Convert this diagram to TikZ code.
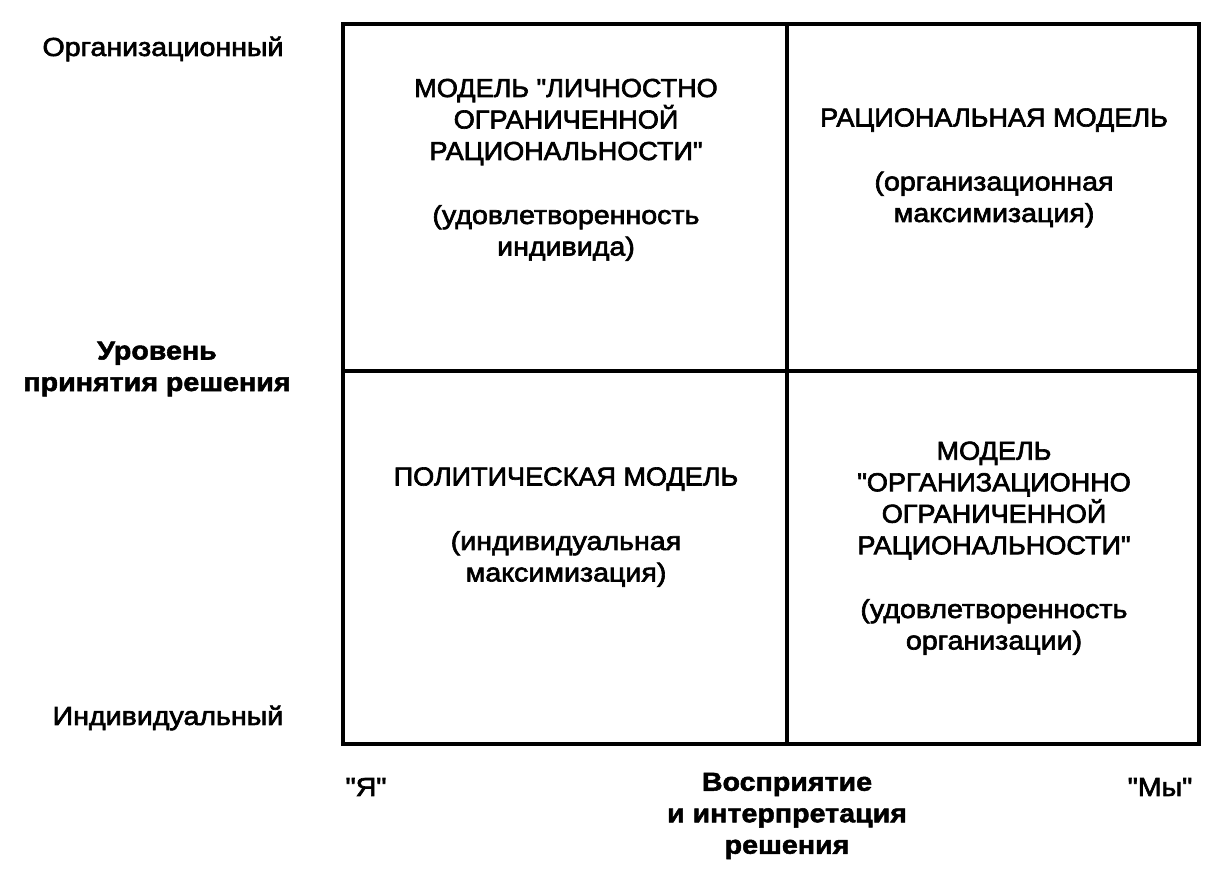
\documentclass[tikz,border=0pt]{standalone}
\usepackage{fontspec}
\setmainfont{Liberation Sans}
\newfontfamily\lowfont[FakeStretch=1.1,FakeBold=2.5]{Liberation Sans}
\newfontfamily\capfont[FakeStretch=1.04,FakeBold=2.5]{Liberation Sans}
\newfontfamily\boldlow[FakeStretch=1.1,FakeBold=2]{Liberation Sans Bold}
\begin{document}
\begin{tikzpicture}[x=1pt,y=-1pt,
  grid/.style={line width=4.5pt},
  capt/.style={align=center,font=\fontsize{26}{31.5}\capfont, inner sep=0pt},
  lowt/.style={align=center,font=\fontsize{26}{31.5}\lowfont, inner sep=0pt},
  boldt/.style={align=center,font=\fontsize{26}{31.5}\boldlow, inner sep=0pt}]
\useasboundingbox (0,0) rectangle (1221,868);
% grid
\coordinate (tl) at (343,24);
\coordinate (br) at (1199,744);
\coordinate (mt) at (787,24);
\coordinate (mb) at (787,744);
\coordinate (ml) at (343,371);
\coordinate (mr) at (1199,371);
\draw[grid] (tl) rectangle (br);
\draw[grid] (mt) -- (mb);
\draw[grid] (ml) -- (mr);
% quadrant texts
\node[capt] (q1t) at (566,122) {МОДЕЛЬ "ЛИЧНОСТНО\\ОГРАНИЧЕННОЙ\\РАЦИОНАЛЬНОСТИ"};
\node[lowt] (q1s) at (566,233) {(удовлетворенность\\индивида)};
\node[capt] (q2t) at (994,120) {РАЦИОНАЛЬНАЯ МОДЕЛЬ};
\node[lowt] (q2s) at (994,199.5) {(организационная\\максимизация)};
\node[capt] (q3t) at (566,479) {ПОЛИТИЧЕСКАЯ МОДЕЛЬ};
\node[lowt] (q3s) at (566,559) {(индивидуальная\\максимизация)};
\node[capt] (q4t) at (994,500.5) {МОДЕЛЬ\\"ОРГАНИЗАЦИОННО\\ОГРАНИЧЕННОЙ\\РАЦИОНАЛЬНОСТИ"};
\node[lowt] (q4s) at (994,627) {(удовлетворенность\\организации)};
% axis labels
\node[lowt] (org) at (163,49) {Организационный};
\node[boldt] (lvl) at (157,369) {Уровень\\принятия решения};
\node[lowt] (ind) at (168,718) {Индивидуальный};
\node[lowt] (ya) at (366,787) {"Я"};
\node[boldt] (perc) at (787,816) {Восприятие\\и интерпретация\\решения};
\node[lowt] (my) at (1160,787) {"Мы"};
\end{tikzpicture}
\end{document}
